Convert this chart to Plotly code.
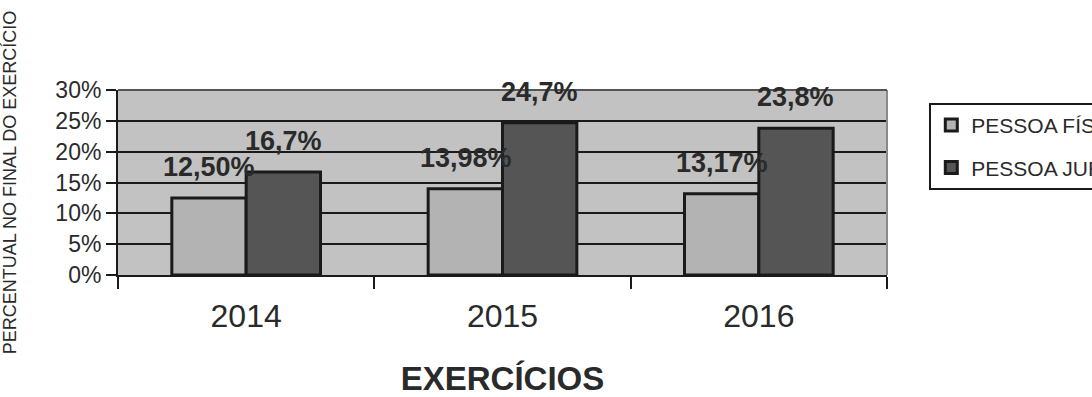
import plotly.graph_objects as go

categories = ["2014", "2015", "2016"]
pessoa_fisica = [12.50, 13.98, 13.17]
pessoa_juridica = [16.7, 24.7, 23.8]
labels_fisica = ["12,50%", "13,98%", "13,17%"]
labels_juridica = ["16,7%", "24,7%", "23,8%"]
series_names = ["PESSOA FÍSICA", "PESSOA JURÍDICA"]
y_ticks = [0, 5, 10, 15, 20, 25, 30]
y_tick_labels = ["0%", "5%", "10%", "15%", "20%", "25%", "30%"]

C_FIS = "#b3b3b3"
C_JUR = "#555555"
INK = "#2a2a2a"

fig = go.Figure()
fig.add_trace(go.Bar(name=series_names[0], x=categories, y=pessoa_fisica,
                     marker=dict(color=C_FIS, line=dict(color="#1a1a1a", width=3)),
                     legendgroup="f"))
fig.add_trace(go.Bar(name=series_names[1], x=categories, y=pessoa_juridica,
                     marker=dict(color=C_JUR, line=dict(color="#1a1a1a", width=3)),
                     legendgroup="j"))

annotations = []
for i, (v, t) in enumerate(zip(pessoa_fisica, labels_fisica)):
    annotations.append(dict(x=i, y=v, xref="x", yref="y", text="<b>%s</b>" % t,
                            showarrow=False, xshift=-37, yshift=14, yanchor="bottom",
                            font=dict(family="Arial, Liberation Sans", size=27, color=INK)))
for i, (v, t) in enumerate(zip(pessoa_juridica, labels_juridica)):
    annotations.append(dict(x=i, y=v, xref="x", yref="y", text="<b>%s</b>" % t,
                            showarrow=False, xshift=37, yshift=14, yanchor="bottom",
                            font=dict(family="Arial, Liberation Sans", size=27, color=INK)))

fig.update_layout(
    width=1092, height=397,
    margin=dict(l=118, r=205, t=90, b=122, autoexpand=False),
    paper_bgcolor="white",
    plot_bgcolor="#c2c2c2",
    barmode="group", bargap=0.42, bargroupgap=0,
    font=dict(family="Arial, Liberation Sans", color=INK),
    showlegend=True,
    legend=dict(x=1.055, y=0.93, xanchor="left", yanchor="top",
                bgcolor="white", bordercolor="#1a1a1a", borderwidth=2,
                font=dict(size=21, color=INK), traceorder="grouped",
                tracegroupgap=12),
    annotations=annotations,
    xaxis=dict(
        type="category", range=[-0.5, 2.5],
        showline=True, linecolor="#1a1a1a", linewidth=2,
        ticks="outside", tickson="boundaries", ticklen=12, tickwidth=2, tickcolor="#1a1a1a",
        tickfont=dict(size=32, color=INK),
        ticklabelstandoff=12, tickangle=0,
        showgrid=False,
        title=dict(text="<b>EXERCÍCIOS</b>", font=dict(size=33, color=INK), standoff=38),
    ),
    yaxis=dict(
        range=[0, 30],
        tickvals=y_ticks, ticktext=y_tick_labels,
        showline=True, linecolor="#1a1a1a", linewidth=2,
        ticks="outside", ticklen=10, tickwidth=2, tickcolor="#1a1a1a",
        tickfont=dict(size=23, color=INK),
        showgrid=True, gridcolor="#1a1a1a", gridwidth=2,
        zeroline=False,
        title=dict(text="PERCENTUAL NO FINAL DO EXERCÍCIO", font=dict(size=18, color=INK), standoff=34),
    ),
    shapes=[
        dict(type="line", xref="paper", yref="paper", x0=1, x1=1, y0=0, y1=1,
             line=dict(color="#8a8a8a", width=2)),
        dict(type="line", xref="paper", yref="paper", x0=0, x1=1, y0=1, y1=1,
             line=dict(color="#555555", width=2)),
    ],
)

fig.write_html("out.html")
